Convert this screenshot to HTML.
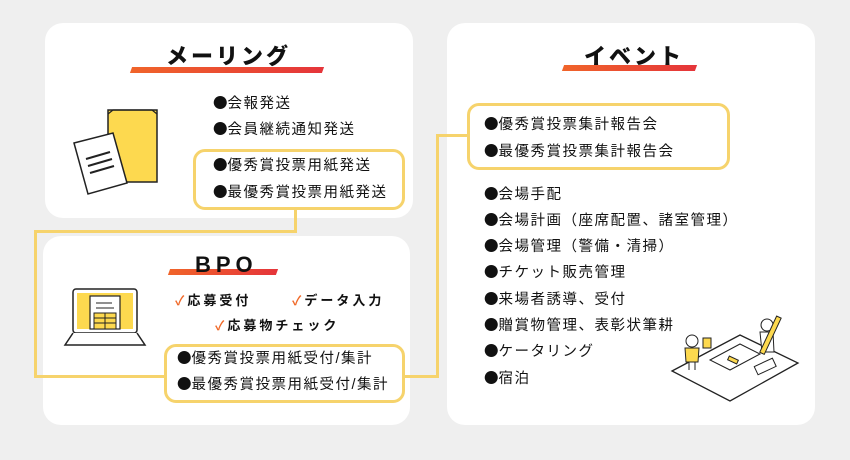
<!DOCTYPE html>
<html><head><meta charset="utf-8"><style>
body{margin:0;width:850px;height:460px;background:#efefef;position:relative;overflow:hidden;font-family:"Liberation Sans","Noto Sans CJK JP",sans-serif;color:#111}
.card{position:absolute;background:#fff;border-radius:18px}
.t{position:absolute;font-size:14.5px;letter-spacing:1.5px;white-space:nowrap;line-height:18px}
.t b{font-family:"Noto Sans CJK JP",sans-serif;font-weight:normal;letter-spacing:0}
.h{position:absolute;font-weight:900;font-size:22px;letter-spacing:3px;white-space:nowrap;line-height:26px;z-index:2}
.bar{position:absolute;height:6px;background:linear-gradient(90deg,#f0642a,#e5353a);transform:skewX(-20deg)}
.box{position:absolute;border:3px solid #f6d36c;border-radius:12px;background:#fff;box-sizing:border-box}
.ln{position:absolute;background:#f6d36c}
.ck{color:#f06a2a}
</style></head><body>
<div class="card" style="left:45px;top:23px;width:368px;height:195px"></div>
<div class="card" style="left:43px;top:236px;width:367px;height:189px"></div>
<div class="card" style="left:447px;top:23px;width:368px;height:402px"></div>

<div class="ln" style="left:294px;top:208px;width:3px;height:25px"></div>
<div class="ln" style="left:34px;top:230px;width:263px;height:3px"></div>
<div class="ln" style="left:34px;top:230px;width:3px;height:148px"></div>
<div class="ln" style="left:34px;top:375px;width:132px;height:3px"></div>
<div class="ln" style="left:403px;top:375px;width:36px;height:3px"></div>
<div class="ln" style="left:436px;top:134px;width:3px;height:244px"></div>
<div class="ln" style="left:436px;top:134px;width:33px;height:3px"></div>

<div class="bar" style="left:131px;top:67px;width:192px"></div>
<div class="h" style="left:166px;top:44px">メーリング</div>
<svg style="position:absolute;left:0;top:0" width="200" height="220">
<rect x="108" y="110" width="49" height="72" fill="#fdd94f" stroke="#222" stroke-width="1.5"/>
<path d="M108 114 L113 110 L152 110 L157 114" fill="none" stroke="#222" stroke-width="1.2"/>
<polygon points="74,143 113,133 127,183 88,194" fill="#fff" stroke="#222" stroke-width="1.5"/>
<line x1="86" y1="159" x2="110" y2="152" stroke="#222" stroke-width="2"/>
<line x1="88" y1="166" x2="112" y2="159" stroke="#222" stroke-width="2"/>
<line x1="90" y1="173" x2="114" y2="166" stroke="#222" stroke-width="2"/>
</svg>
<div class="t" style="left:213px;top:94px"><b>●</b>会報発送</div>
<div class="t" style="left:213px;top:120px"><b>●</b>会員継続通知発送</div>
<div class="box" style="left:193px;top:149px;width:212px;height:61px"></div>
<div class="t" style="left:213px;top:156px"><b>●</b>優秀賞投票用紙発送</div>
<div class="t" style="left:213px;top:183px"><b>●</b>最優秀賞投票用紙発送</div>

<div class="bar" style="left:169px;top:269px;width:108px"></div>
<div class="h" style="left:195px;top:252px;letter-spacing:5px">BPO</div>
<svg style="position:absolute;left:62px;top:287px" width="85" height="62">
<rect x="11" y="2" width="64" height="44" rx="3" fill="#fff" stroke="#222" stroke-width="1.5"/>
<rect x="15" y="6" width="56" height="36" fill="#fdd94f"/>
<rect x="28" y="9" width="30" height="33" fill="#fff" stroke="#222" stroke-width="1.2"/>
<line x1="34" y1="16" x2="50" y2="16" stroke="#222"/><line x1="34" y1="21" x2="52" y2="21" stroke="#222"/>
<rect x="32" y="26" width="22" height="16" fill="#fdd94f" stroke="#222"/>
<line x1="32" y1="31" x2="54" y2="31" stroke="#222"/><line x1="32" y1="36" x2="54" y2="36" stroke="#222"/><line x1="43" y1="26" x2="43" y2="42" stroke="#222"/>
<path d="M11 46 L3 58 L83 58 L75 46" fill="#fff" stroke="#222" stroke-width="1.5"/>
</svg>
<div class="t" style="left:175px;top:292px;font-weight:bold;font-size:13px;letter-spacing:3px"><span class="ck">✓</span>応募受付</div>
<div class="t" style="left:292px;top:292px;font-weight:bold;font-size:13px;letter-spacing:3px"><span class="ck">✓</span>データ入力</div>
<div class="t" style="left:215px;top:317px;font-weight:bold;font-size:13px;letter-spacing:3px"><span class="ck">✓</span>応募物チェック</div>
<div class="box" style="left:164px;top:344px;width:241px;height:59px"></div>
<div class="t" style="left:177px;top:349px"><b>●</b>優秀賞投票用紙受付/集計</div>
<div class="t" style="left:177px;top:375px"><b>●</b>最優秀賞投票用紙受付/集計</div>

<div class="bar" style="left:563px;top:65px;width:133px"></div>
<div class="h" style="left:584px;top:44px">イベント</div>
<div class="box" style="left:467px;top:103px;width:263px;height:67px"></div>
<div class="t" style="left:484px;top:115px"><b>●</b>優秀賞投票集計報告会</div>
<div class="t" style="left:484px;top:142px"><b>●</b>最優秀賞投票集計報告会</div>
<div class="t" style="left:484px;top:185px"><b>●</b>会場手配</div>
<div class="t" style="left:484px;top:211px"><b>●</b>会場計画（座席配置、諸室管理）</div>
<div class="t" style="left:484px;top:237px"><b>●</b>会場管理（警備・清掃）</div>
<div class="t" style="left:484px;top:263px"><b>●</b>チケット販売管理</div>
<div class="t" style="left:484px;top:290px"><b>●</b>来場者誘導、受付</div>
<div class="t" style="left:484px;top:316px"><b>●</b>贈賞物管理、表彰状筆耕</div>
<div class="t" style="left:484px;top:342px"><b>●</b>ケータリング</div>
<div class="t" style="left:484px;top:369px"><b>●</b>宿泊</div>
<svg style="position:absolute;left:670px;top:310px" width="140" height="95">
<path d="M2 61 L70 25 L128 53 L60 91 Z" fill="#fff" stroke="#222" stroke-width="1.3"/>
<path d="M40 50 L70 34 L90 44 L60 60 Z" fill="none" stroke="#222"/>
<rect x="85" y="52" width="20" height="9" fill="#fff" stroke="#222" transform="rotate(-25 95 56)"/>
<rect x="58" y="48" width="10" height="4" fill="#fdd94f" stroke="#222" transform="rotate(25 63 50)"/>
<rect x="33" y="28" width="8" height="10" fill="#fdd94f" stroke="#222"/>
<circle cx="22" cy="31" r="6" fill="#fff" stroke="#222"/>
<path d="M15 38 L29 38 L28 52 L16 52 Z" fill="#fdd94f" stroke="#222"/>
<line x1="19" y1="52" x2="19" y2="60" stroke="#222"/><line x1="25" y1="52" x2="25" y2="60" stroke="#222"/>
<circle cx="97" cy="15" r="6" fill="#fff" stroke="#222"/>
<path d="M90 22 L103 22 L104 42 L92 42 Z" fill="#fff" stroke="#222"/>
<rect x="98" y="5" width="5" height="40" fill="#fdd94f" stroke="#222" transform="rotate(25 100 25)"/>
</svg>
</body></html>
